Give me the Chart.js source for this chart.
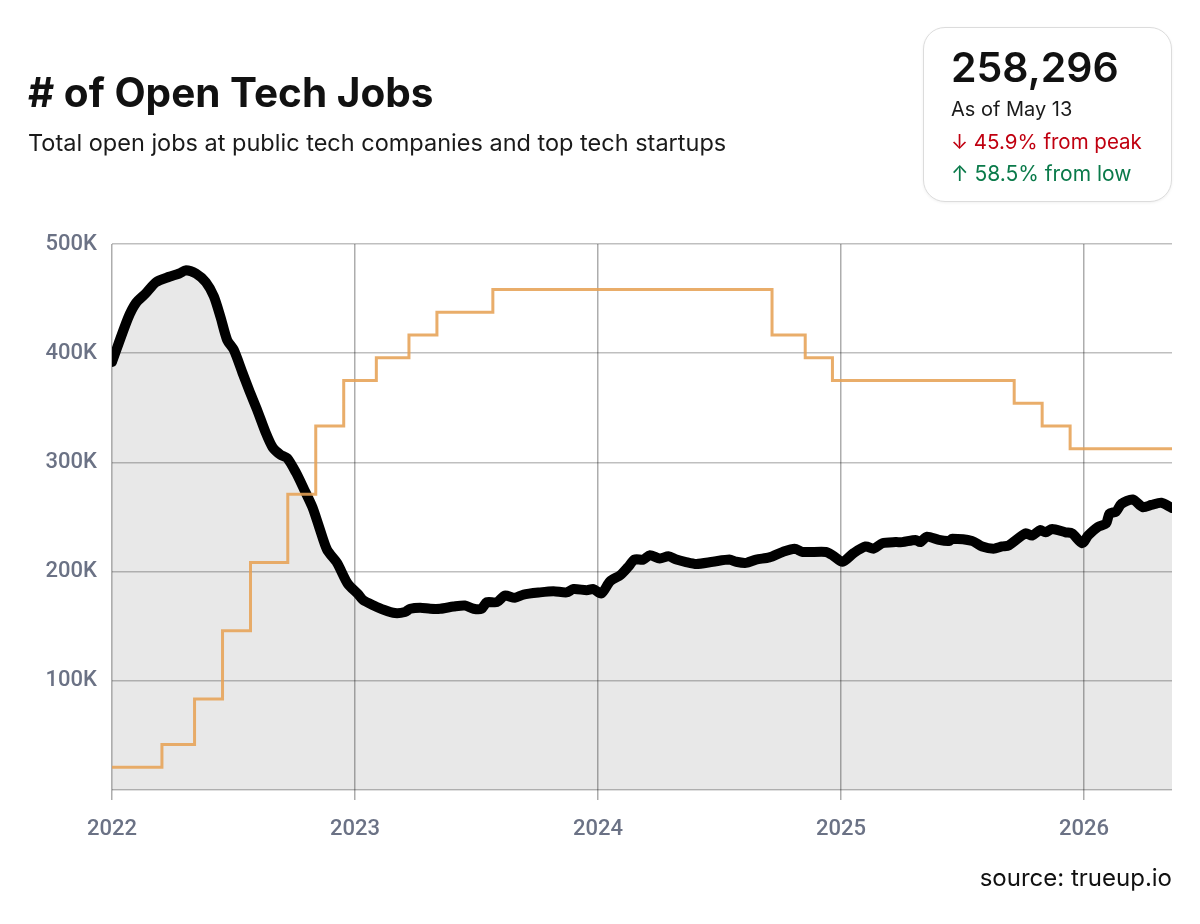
<!DOCTYPE html>
<html>
<head>
<meta charset="utf-8">
<script src="https://cdn.jsdelivr.net/npm/chart.js@4.4.1/dist/chart.umd.min.js"></script>
<style>
  html, body { margin: 0; padding: 0; background: #fff; }
  #wrap { position: relative; width: 1200px; height: 924px; overflow: hidden; font-family: Inter, "Noto Sans", sans-serif; }
  canvas { position: absolute; left: 0; top: 0; }
  .t { position: absolute; white-space: nowrap; line-height: 1; }
  #title { left: 28px; top: 73px; font-size: 40.5px; font-weight: 700; color: #111; }
  #subtitle { left: 28px; top: 131px; font-size: 23.5px; font-weight: 400; color: #1a1a1a; }
  #box { position: absolute; left: 923px; top: 27px; width: 249px; height: 175px; border: 1.5px solid #dcdcdc; border-radius: 22px; box-sizing: border-box; background: #fff; box-shadow: 0 1px 3px rgba(0,0,0,0.06); }
  #big { left: 951px; top: 47px; font-size: 41px; font-weight: 600; color: #111; }
  #asof { left: 951px; top: 99px; font-size: 20px; color: #1a1a1a; }
  #peak { left: 951px; top: 132px; font-size: 20.5px; color: #c00010; }
  #low { left: 951px; top: 163px; font-size: 21px; color: #0a7a4a; }
  #source { right: 28px; top: 866px; font-size: 24px; color: #111; }
</style>
</head>
<body>
<div id="wrap">
  <canvas id="c" width="1200" height="924"></canvas>
  <div class="t" id="title"># of Open Tech Jobs</div>
  <div class="t" id="subtitle">Total open jobs at public tech companies and top tech startups</div>
  <div id="box"></div>
  <div class="t" id="big">258,296</div>
  <div class="t" id="asof">As of May 13</div>
  <div class="t" id="peak">↓ 45.9% from peak</div>
  <div class="t" id="low">↑ 58.5% from low</div>
  <div class="t" id="source">source: trueup.io</div>
</div>
<script>
// ---- Data ----
const jobDates = [
  '2022-01-01','2022-01-25','2022-02-06','2022-02-21','2022-03-08','2022-03-28','2022-04-12','2022-04-22',
  '2022-05-07','2022-05-22','2022-06-03','2022-06-13','2022-06-23','2022-07-03','2022-07-16','2022-07-26',
  '2022-08-07','2022-08-20','2022-08-30','2022-09-11','2022-09-21','2022-10-04','2022-10-16','2022-10-29',
  '2022-11-08','2022-11-20','2022-12-05','2022-12-21',
  '2023-01-06','2023-01-13','2023-01-29','2023-02-13','2023-03-02','2023-03-17','2023-03-25','2023-04-09',
  '2023-04-24','2023-05-09','2023-05-29','2023-06-15','2023-06-28','2023-07-10','2023-07-18','2023-08-02',
  '2023-08-14','2023-08-29','2023-09-11','2023-10-06','2023-10-26','2023-11-15','2023-11-25','2023-12-15',
  '2023-12-25',
  '2024-01-06','2024-01-19','2024-02-04','2024-02-15','2024-02-25','2024-03-09','2024-03-19','2024-04-03',
  '2024-04-16','2024-04-28','2024-05-11','2024-05-28','2024-06-22','2024-07-17','2024-07-27','2024-08-11',
  '2024-08-26','2024-09-15','2024-10-05','2024-10-23','2024-11-04','2024-12-09','2024-12-19',
  '2025-01-03','2025-01-20','2025-02-07','2025-02-19','2025-03-04','2025-03-24','2025-04-03','2025-04-23',
  '2025-04-30','2025-05-10','2025-05-28','2025-06-12','2025-06-17','2025-07-17','2025-08-01','2025-08-18',
  '2025-08-31','2025-09-10','2025-10-05','2025-10-15','2025-10-27','2025-11-04','2025-11-14','2025-12-04',
  '2025-12-14','2025-12-29',
  '2026-01-07','2026-01-22','2026-02-03','2026-02-08','2026-02-18','2026-02-26','2026-03-15','2026-03-30',
  '2026-04-12','2026-04-27','2026-05-13'
];
const jobValues = [
  392000,432000,446000,455000,465000,470000,473000,476000,
  473000,465000,452000,433000,412000,403000,382000,366000,
  348000,327000,314000,307000,304000,291000,276000,259000,
  241000,220000,208000,189000,
  179000,174000,169000,165000,162000,163000,166000,167000,
  166000,166000,168000,169000,166000,166000,172000,172000,
  178000,176000,179000,181000,182000,181000,184000,183000,
  184000,
  180000,191000,197000,204000,211000,211000,215000,212000,
  214000,211000,209000,207000,209000,211000,209000,208000,
  211000,213000,218000,221000,218000,218000,215000,
  209000,217000,223000,221000,226000,227000,227000,229000,
  227000,232000,229000,228000,230000,228000,223000,221000,
  223000,224000,235000,233000,238000,236000,239000,236000,
  235000,226000,
  233000,241000,244000,253000,255000,262000,266000,259000,
  261000,263000,258296
];
// Fed funds target rate (upper bound), % — change dates and new levels
const rateDates = [
  '2022-01-01','2022-03-17','2022-05-05','2022-06-16','2022-07-28','2022-09-22','2022-11-03','2022-12-15',
  '2023-02-02','2023-03-23','2023-05-04','2023-07-27','2024-09-19','2024-11-08','2024-12-19',
  '2025-09-18','2025-10-30','2025-12-11','2026-05-13'
];
const rateValues = [
  0.25,0.5,1.0,1.75,2.5,3.25,4.0,4.5,
  4.75,5.0,5.25,5.5,5.0,4.75,4.5,
  4.25,4.0,3.75,3.75
];
const xTickValues = [2022, 2023, 2024, 2025, 2026];
const xTickLabels = ['2022', '2023', '2024', '2025', '2026'];
const yTickValues = [0, 100000, 200000, 300000, 400000, 500000];
const yTickLabels = ['', '100K', '200K', '300K', '400K', '500K'];

// ---- helpers ----
function decYear(s) {
  const [y, m, d] = s.split('-').map(Number);
  const start = Date.UTC(y, 0, 1), end = Date.UTC(y + 1, 0, 1);
  return y + (Date.UTC(y, m - 1, d) - start) / (end - start);
}
const jobPoints = jobDates.map((d, i) => ({ x: decYear(d), y: jobValues[i] }));
const ratePoints = rateDates.map((d, i) => ({ x: decYear(d), y: rateValues[i] }));
const xMax = decYear(jobDates[jobDates.length - 1]);

function draw() {
  new Chart(document.getElementById('c'), {
    type: 'line',
    data: {
      datasets: [
        {
          label: 'Fed rate',
          data: ratePoints,
          yAxisID: 'y2',
          stepped: 'before',
          borderColor: 'rgba(230,162,85,0.88)',
          borderWidth: 3,
          pointRadius: 0,
          fill: false,
          order: 0
        },
        {
          label: 'Open tech jobs',
          data: jobPoints,
          yAxisID: 'y',
          borderColor: '#000',
          borderWidth: 10,
          borderCapStyle: 'round',
          borderJoinStyle: 'round',
          tension: 0.25,
          pointRadius: 0,
          fill: 'origin',
          backgroundColor: 'rgba(0,0,0,0.09)',
          order: 1
        }
      ]
    },
    options: {
      responsive: false,
      animation: false,
      devicePixelRatio: 1,
      layout: { padding: { left: 0, top: 244, right: 28, bottom: 74 } },
      plugins: { legend: { display: false }, tooltip: { enabled: false } },
      scales: {
        x: {
          type: 'linear',
          min: 2022,
          max: xMax,
          afterBuildTicks: s => { s.ticks = xTickValues.map(v => ({ value: v })); },
          afterFit: s => { s.height = 60; },
          border: { display: false },
          grid: { color: 'rgba(0,0,0,0.32)', lineWidth: 1.5, tickLength: 10, drawTicks: true },
          ticks: {
            padding: 16,
            color: '#6b7285',
            font: { family: 'Roboto', size: 22, weight: '500' },
            callback: v => xTickLabels[xTickValues.indexOf(v)] ?? ''
          }
        },
        y: {
          type: 'linear',
          min: 0,
          max: 500000,
          afterBuildTicks: s => { s.ticks = yTickValues.map(v => ({ value: v })); },
          afterFit: s => { s.width = 112; },
          border: { display: false },
          grid: { color: 'rgba(0,0,0,0.25)', lineWidth: 1.5, drawTicks: false },
          ticks: {
            padding: 15,
            color: '#6b7285',
            font: { family: 'Roboto', size: 22, weight: '500' },
            callback: v => yTickLabels[yTickValues.indexOf(v)] ?? ''
          }
        },
        y2: {
          type: 'linear',
          display: false,
          min: 0,
          max: 6
        }
      }
    }
  });
}
if (document.fonts && document.fonts.load) {
  Promise.all([
    document.fonts.load('500 22px Roboto'),
    document.fonts.load('700 40px Inter'),
    document.fonts.load('400 22px Inter'),
    document.fonts.load('600 41px Inter')
  ]).then(draw, draw);
} else { draw(); }
</script>
</body>
</html>
